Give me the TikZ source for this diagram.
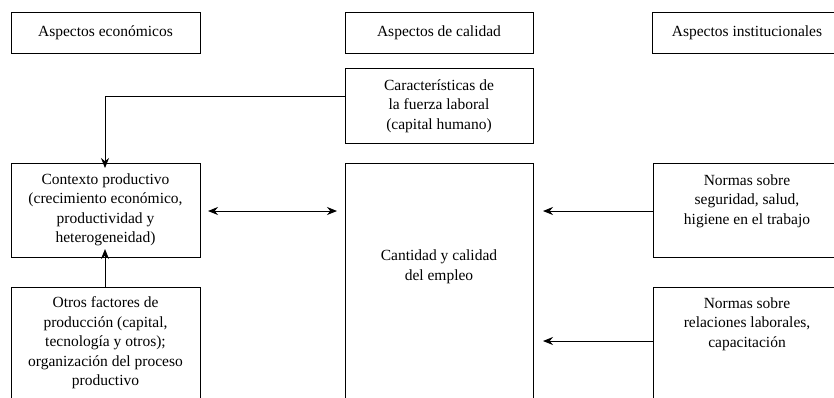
\documentclass[tikz,border=0pt]{standalone}
\usepackage{fontspec}
\setmainfont{Liberation Serif}
\usetikzlibrary{arrows.meta}
\begin{document}
\begin{tikzpicture}[x=1pt,y=-1pt,
  box/.style={draw, line width=1pt, inner sep=0pt},
  txt/.style={font=\fontsize{15.5}{19.5}\selectfont, align=center, inner sep=0pt},
  arr/.style={line width=1pt, -{Stealth[length=10pt,width=8pt]}},
  darr/.style={line width=1pt, {Stealth[length=10pt,width=8pt]}-{Stealth[length=10pt,width=8pt]}}]
\useasboundingbox (0,0) rectangle (834,397);
\clip (0,0) rectangle (834,397);
% boxes (x from left, y from top)
\draw[box] (11,12) rectangle (200,53);
\node[txt] (econ) at (105.5,32.5) {Aspectos económicos};
\draw[box] (345,12) rectangle (533,53);
\node[txt] (cal) at (439,32.5) {Aspectos de calidad};
\draw[box] (652,12) rectangle (850,53);
\node[txt] (inst) at (747,32.5) {Aspectos institucionales};
% Caracteristicas
\draw[box] (345,68) rectangle (533,143);
\coordinate (carW) at (345,96);
\node[txt] (car) at (439,106) {Características de\\la fuerza laboral\\(capital humano)};
% Contexto
\draw[box] (11,163) rectangle (200,257);
\coordinate (ctxN) at (105,163);
\coordinate (ctxS) at (105,257);
\coordinate (ctxE) at (200,211);
\node[txt] (ctx) at (105.5,210) {Contexto productivo\\(crecimiento económico,\\productividad y\\heterogeneidad)};
% Otros
\draw[box] (11,287) rectangle (200,420);
\coordinate (otrN) at (105,287);
\node[txt] (otr) at (105.5,343) {Otros factores de\\producción (capital,\\tecnología y otros);\\organización del proceso\\productivo};
% Cantidad
\draw[box] (345,163) rectangle (533,420);
\coordinate (canW) at (345,211);
\coordinate (canE) at (533,211);
\coordinate (canE2) at (533,341);
\node[txt] (can) at (439,267) {Cantidad y calidad\\del empleo};
% Normas 1
\draw[box] (653,163) rectangle (850,257);
\coordinate (n1W) at (653,211);
\node[txt] (n1) at (747,201) {Normas sobre\\seguridad, salud,\\higiene en el trabajo};
% Normas 2
\draw[box] (653,287) rectangle (850,420);
\coordinate (n2W) at (653,341);
\node[txt] (n2) at (747,324) {Normas sobre\\relaciones laborales,\\capacitación};
% connectors
\draw[arr] (carW) -- (105,96) -- ([yshift=-5pt]ctxN);
\draw[arr] (otrN) -- ([yshift=8pt]ctxS);
\draw[darr] ([xshift=8pt]ctxE) -- ([xshift=-8pt]canW);
\draw[arr] (n1W) -- ([xshift=10pt]canE);
\draw[arr] (n2W) -- ([xshift=10pt]canE2);
\end{tikzpicture}
\end{document}
